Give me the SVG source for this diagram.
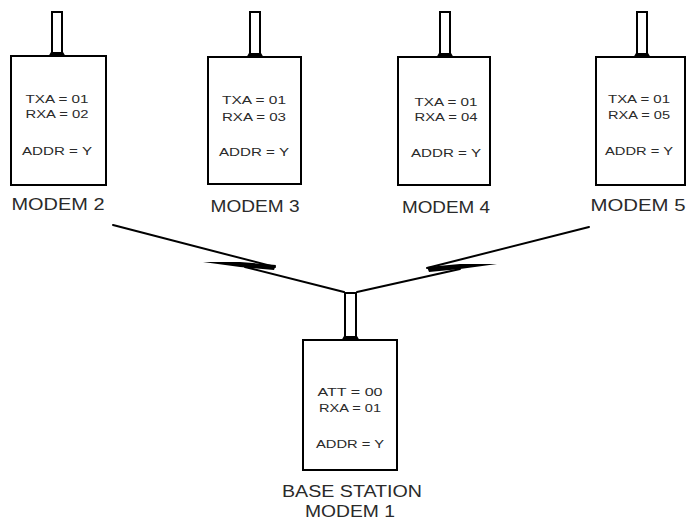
<svg xmlns="http://www.w3.org/2000/svg" width="691" height="525" viewBox="0 0 691 525">
<defs>
<style>
.box{fill:#fff;stroke:#000;stroke-width:2}
.ant{fill:#fff;stroke:#000;stroke-width:2}
.blob{fill:#000}
.t{font-family:"Liberation Sans",Arial,sans-serif;font-size:11.5px;fill:#2a2a2a;text-anchor:middle}
.lbl{font-family:"Liberation Sans",Arial,sans-serif;font-size:16px;fill:#2a2a2a;text-anchor:middle}
.ln{fill:none;stroke:#000;stroke-width:2;stroke-linecap:round}
.wedge{fill:#000}
</style>
</defs>
<rect width="691" height="525" fill="#fff"/>
<g id="modem2">
<rect class="ant" x="52" y="12" width="10" height="44"/>
<polygon class="blob" points="48,57 66,57 63,52 51,52"/>
<rect class="box" x="11" y="56" width="95" height="129"/>
<text class="t" x="57" y="103" textLength="63" lengthAdjust="spacingAndGlyphs">TXA = 01</text>
<text class="t" x="57" y="118" textLength="63" lengthAdjust="spacingAndGlyphs">RXA = 02</text>
<text class="t" x="57" y="155" textLength="70" lengthAdjust="spacingAndGlyphs">ADDR = Y</text>
<text class="lbl" x="58" y="210" textLength="93" lengthAdjust="spacingAndGlyphs">MODEM 2</text>
</g>
<g id="modem3">
<rect class="ant" x="250" y="12" width="10" height="45"/>
<polygon class="blob" points="246,58 264,58 261,53 249,53"/>
<rect class="box" x="208" y="57" width="93" height="127"/>
<text class="t" x="254" y="104" textLength="64" lengthAdjust="spacingAndGlyphs">TXA = 01</text>
<text class="t" x="254" y="121" textLength="64" lengthAdjust="spacingAndGlyphs">RXA = 03</text>
<text class="t" x="254" y="156" textLength="70" lengthAdjust="spacingAndGlyphs">ADDR = Y</text>
<text class="lbl" x="255" y="212" textLength="89" lengthAdjust="spacingAndGlyphs">MODEM 3</text>
</g>
<g id="modem4">
<rect class="ant" x="440" y="12" width="10" height="45"/>
<polygon class="blob" points="436,58 454,58 451,53 439,53"/>
<rect class="box" x="398" y="57" width="92" height="128"/>
<text class="t" x="446" y="106" textLength="63" lengthAdjust="spacingAndGlyphs">TXA = 01</text>
<text class="t" x="446" y="121" textLength="63" lengthAdjust="spacingAndGlyphs">RXA = 04</text>
<text class="t" x="446" y="157" textLength="70" lengthAdjust="spacingAndGlyphs">ADDR = Y</text>
<text class="lbl" x="446" y="213" textLength="88" lengthAdjust="spacingAndGlyphs">MODEM 4</text>
</g>
<g id="modem5">
<rect class="ant" x="637" y="12" width="10" height="45"/>
<polygon class="blob" points="633,58 651,58 648,53 636,53"/>
<rect class="box" x="596" y="57" width="89" height="128"/>
<text class="t" x="639" y="103" textLength="62" lengthAdjust="spacingAndGlyphs">TXA = 01</text>
<text class="t" x="639" y="119" textLength="62" lengthAdjust="spacingAndGlyphs">RXA = 05</text>
<text class="t" x="639" y="155" textLength="68" lengthAdjust="spacingAndGlyphs">ADDR = Y</text>
<text class="lbl" x="638" y="211" textLength="95" lengthAdjust="spacingAndGlyphs">MODEM 5</text>
</g>
<g id="modem1">
<rect class="ant" x="345" y="293" width="11" height="47"/>
<polygon class="blob" points="341,341 360,341 357,336 344,336"/>
<rect class="box" x="303" y="340" width="94" height="130"/>
<text class="t" x="350" y="396" textLength="65" lengthAdjust="spacingAndGlyphs">ATT = 00</text>
<text class="t" x="350" y="412" textLength="62" lengthAdjust="spacingAndGlyphs">RXA = 01</text>
<text class="t" x="350" y="448" textLength="68" lengthAdjust="spacingAndGlyphs">ADDR = Y</text>
<text class="lbl" x="352" y="497" textLength="140" lengthAdjust="spacingAndGlyphs">BASE STATION</text>
<text class="lbl" x="350" y="517" textLength="90" lengthAdjust="spacingAndGlyphs">MODEM 1</text>
</g>
<g id="connectors">
<line class="ln" x1="113" y1="225" x2="275" y2="267"/>
<polygon class="wedge" points="203,262 240,262 276,265 274,270 240,267"/>
<line class="ln" x1="245" y1="267" x2="344" y2="292"/>
<line class="ln" x1="589" y1="227" x2="427" y2="268"/>
<polygon class="wedge" points="497,264 460,264 427,267 429,272 460,269"/>
<line class="ln" x1="460" y1="269" x2="357" y2="292"/>
</g>
</svg>
